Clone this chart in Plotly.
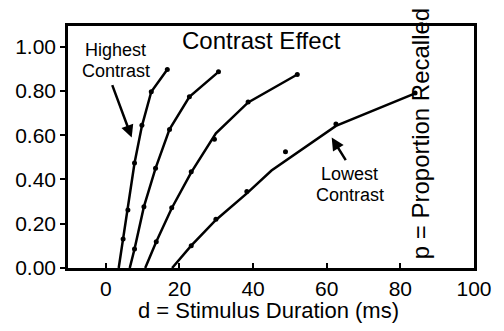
import plotly.graph_objects as go

# fitted curves (line vertices)
high_fit_x = [3.5, 4.7, 6.0, 7.8, 9.8, 12.35, 16.7]
high_fit_y = [0.0, 0.131, 0.262, 0.474, 0.641, 0.796, 0.897]
c2_fit_x = [6.5, 7.8, 10.35, 13.5, 17.3, 22.7, 30.6]
c2_fit_y = [0.0, 0.086, 0.277, 0.450, 0.626, 0.773, 0.886]
c3_fit_x = [10.7, 13.7, 17.9, 23.2, 29.9, 38.65, 52.0]
c3_fit_y = [0.0, 0.119, 0.270, 0.432, 0.608, 0.748, 0.874]
low_fit_x = [18.0, 23.2, 29.9, 38.3, 45.0, 62.5, 84.0]
low_fit_y = [0.0, 0.101, 0.217, 0.337, 0.440, 0.642, 0.789]

# observed data points
high_pts_x = [4.7, 6.0, 7.8, 9.8, 12.35, 16.7]
high_pts_y = [0.131, 0.262, 0.474, 0.645, 0.796, 0.897]
c2_pts_x = [7.8, 10.35, 13.5, 17.3, 22.7, 30.6]
c2_pts_y = [0.086, 0.277, 0.450, 0.626, 0.773, 0.886]
c3_pts_x = [13.7, 17.9, 23.2, 29.5, 38.65, 52.0]
c3_pts_y = [0.119, 0.272, 0.435, 0.581, 0.750, 0.874]
low_pts_x = [23.2, 29.9, 38.3, 48.8, 62.5, 84.0]
low_pts_y = [0.101, 0.220, 0.345, 0.525, 0.650, 0.790]

x_ticks = [0, 20, 40, 60, 80, 100]
y_ticks = [0.0, 0.2, 0.4, 0.6, 0.8, 1.0]

FONT = "Liberation Sans, Arial, Helvetica, sans-serif"

fig = go.Figure()
for fx, fy, px, py in [
    (high_fit_x, high_fit_y, high_pts_x, high_pts_y),
    (c2_fit_x, c2_fit_y, c2_pts_x, c2_pts_y),
    (c3_fit_x, c3_fit_y, c3_pts_x, c3_pts_y),
    (low_fit_x, low_fit_y, low_pts_x, low_pts_y),
]:
    fig.add_trace(go.Scatter(x=fx, y=fy, mode="lines",
                             line=dict(color="black", width=2.5),
                             hoverinfo="skip", cliponaxis=False))
    fig.add_trace(go.Scatter(x=px, y=py, mode="markers",
                             marker=dict(color="black", size=5, symbol="circle"),
                             hoverinfo="skip"))

fig.update_layout(
    width=504, height=331,
    margin=dict(l=68, r=28, t=26, b=63),
    plot_bgcolor="white", paper_bgcolor="white",
    showlegend=False,
    font=dict(family=FONT, color="black"),
)
fig.update_xaxes(
    range=[-10.27, 100], tickvals=x_ticks, ticktext=[str(v) for v in x_ticks],
    ticks="inside", ticklen=5, tickwidth=2, tickcolor="black",
    showline=True, linewidth=2.5, linecolor="black", mirror=True,
    showgrid=False, zeroline=False, tickfont=dict(size=21, family=FONT),
)
fig.update_yaxes(
    range=[0, 1.093], tickvals=y_ticks, tickformat=".2f",
    ticks="outside", ticklen=5, tickwidth=2, tickcolor="black",
    showline=True, linewidth=2.5, linecolor="black", mirror=True,
    showgrid=False, zeroline=False, tickfont=dict(size=21, family=FONT),
)

ann = [
    dict(text="Contrast Effect", x=0.4755, y=0.942, size=24),
    dict(text="Highest", x=0.1176, y=0.902, size=18),
    dict(text="Contrast", x=0.1176, y=0.815, size=18),
    dict(text="Lowest", x=0.6936, y=0.388, size=18),
    dict(text="Contrast", x=0.6936, y=0.302, size=18),
    dict(text="d = Stimulus Duration (ms)", x=0.494, y=-0.175, size=22),
]
for a in ann:
    fig.add_annotation(text=a["text"], x=a["x"], y=a["y"], xref="paper", yref="paper",
                       xanchor="center", yanchor="middle", showarrow=False,
                       borderpad=0,
                       font=dict(size=a["size"], family=FONT, color="black"))
fig.add_annotation(text="p = Proportion Recalled", x=0.869, y=0.556,
                   xref="paper", yref="paper", textangle=-90,
                   xanchor="center", yanchor="middle", showarrow=False,
                   font=dict(size=24, family=FONT, color="black"))

# arrows
fig.add_annotation(x=7.03, y=0.589, xref="x", yref="y", text="", showarrow=True,
                   ax=-20, ay=-54, arrowhead=2, arrowsize=1, arrowwidth=2.5,
                   arrowcolor="black")
fig.add_annotation(x=61.35, y=0.589, xref="x", yref="y", text="", showarrow=True,
                   ax=15, ay=24, arrowhead=2, arrowsize=1, arrowwidth=2.5,
                   arrowcolor="black")

fig.write_html("out.html")
